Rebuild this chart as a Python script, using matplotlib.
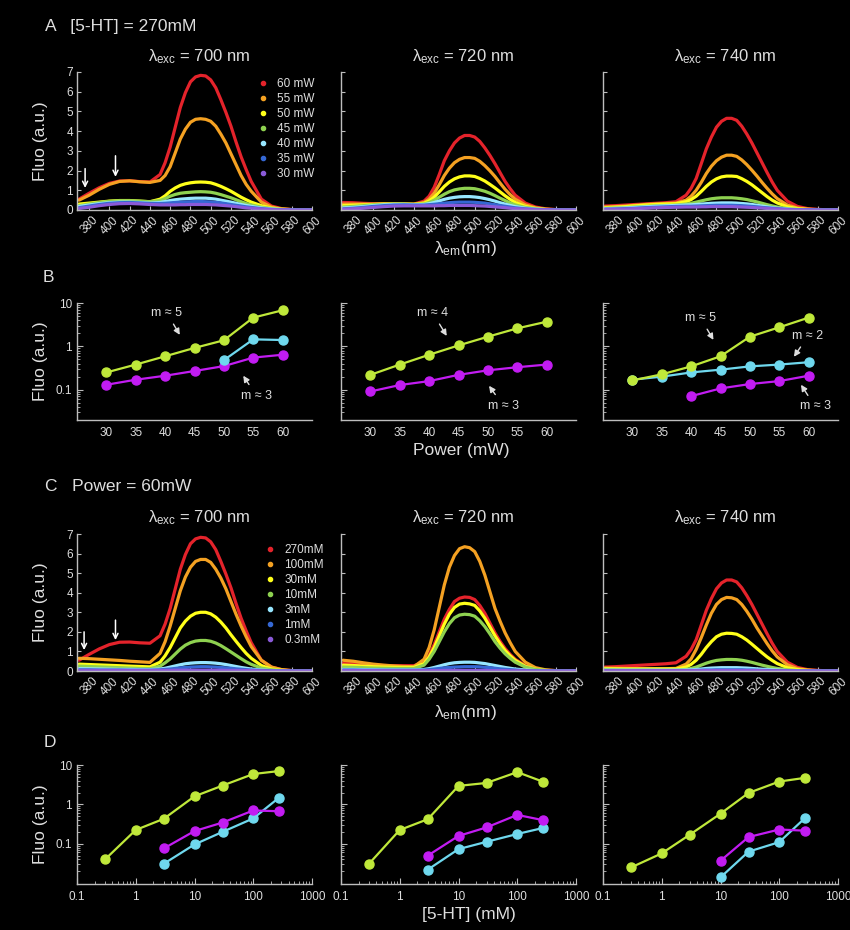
import matplotlib
matplotlib.use("Agg")
from matplotlib import pyplot as plt
from matplotlib.lines import Line2D
from matplotlib.ticker import LogLocator, NullFormatter
from matplotlib.transforms import ScaledTranslation

plt.rcParams["font.family"] = ["Liberation Sans", "DejaVu Sans"]
plt.rcParams["mathtext.default"] = "regular"

# emission wavelength grid (nm), finer across the peak
wl = [370, 380, 390, 400, 410, 420, 430, 440,
      450, 455, 460, 465, 470, 475, 480, 485, 490, 495, 500, 505, 510, 515, 520, 525, 530, 535, 540,
      550, 560, 570, 580, 590, 600]

# A: power series at [5-HT] = 270 mM (60, 55, 50, 45, 40, 35, 30 mW)
power_labels = ["60 mW", "55 mW", "50 mW", "45 mW", "40 mW", "35 mW", "30 mW"]
a700 = [
    [0.55, 0.85, 1.13, 1.35, 1.47, 1.48, 1.44, 1.42, 1.8, 2.4, 3.2, 4.2, 5.2, 5.95, 6.5, 6.75, 6.83, 6.8, 6.6, 6.2, 5.6, 4.95, 4.25, 3.45, 2.7, 2.05, 1.45, 0.55, 0.2, 0.07, 0.02, 0.01, 0.0],
    [0.5, 0.75, 1.05, 1.3, 1.45, 1.48, 1.43, 1.4, 1.5, 1.75, 2.2, 2.9, 3.6, 4.1, 4.45, 4.6, 4.63, 4.6, 4.5, 4.25, 3.85, 3.4, 2.85, 2.3, 1.75, 1.3, 0.95, 0.4, 0.15, 0.05, 0.02, 0.01, 0.0],
    [0.3, 0.35, 0.4, 0.45, 0.48, 0.48, 0.45, 0.42, 0.55, 0.72, 0.95, 1.12, 1.25, 1.33, 1.38, 1.41, 1.42, 1.41, 1.38, 1.3, 1.2, 1.08, 0.95, 0.8, 0.65, 0.52, 0.4, 0.22, 0.1, 0.04, 0.02, 0.01, 0.0],
    [0.22, 0.3, 0.38, 0.44, 0.47, 0.47, 0.45, 0.42, 0.48, 0.58, 0.7, 0.79, 0.85, 0.88, 0.9, 0.92, 0.93, 0.92, 0.9, 0.85, 0.78, 0.7, 0.62, 0.52, 0.42, 0.33, 0.26, 0.14, 0.07, 0.03, 0.01, 0.0, 0.0],
    [0.18, 0.25, 0.32, 0.37, 0.4, 0.4, 0.38, 0.35, 0.38, 0.43, 0.48, 0.52, 0.55, 0.57, 0.59, 0.6, 0.6, 0.6, 0.58, 0.55, 0.5, 0.45, 0.4, 0.34, 0.28, 0.23, 0.18, 0.1, 0.05, 0.02, 0.01, 0.0, 0.0],
    [0.12, 0.2, 0.28, 0.34, 0.37, 0.38, 0.36, 0.33, 0.33, 0.34, 0.36, 0.38, 0.4, 0.41, 0.42, 0.43, 0.43, 0.42, 0.41, 0.39, 0.36, 0.32, 0.28, 0.24, 0.2, 0.16, 0.13, 0.07, 0.03, 0.01, 0.0, 0.0, 0.0],
    [0.08, 0.14, 0.22, 0.28, 0.32, 0.33, 0.31, 0.28, 0.26, 0.26, 0.26, 0.26, 0.27, 0.27, 0.28, 0.28, 0.28, 0.28, 0.27, 0.26, 0.24, 0.22, 0.2, 0.17, 0.14, 0.11, 0.09, 0.05, 0.02, 0.01, 0.0, 0.0, 0.0],
]
a720 = [
    [0.38, 0.37, 0.34, 0.32, 0.32, 0.32, 0.31, 0.3, 0.45, 0.7, 1.15, 1.8, 2.5, 3.0, 3.4, 3.65, 3.78, 3.78, 3.7, 3.48, 3.15, 2.77, 2.35, 1.9, 1.45, 1.08, 0.75, 0.35, 0.15, 0.06, 0.02, 0.01, 0.0],
    [0.3, 0.3, 0.3, 0.3, 0.31, 0.31, 0.3, 0.29, 0.38, 0.55, 0.85, 1.28, 1.75, 2.12, 2.4, 2.57, 2.66, 2.66, 2.62, 2.47, 2.25, 1.99, 1.7, 1.37, 1.05, 0.78, 0.55, 0.26, 0.11, 0.04, 0.02, 0.01, 0.0],
    [0.22, 0.24, 0.26, 0.28, 0.3, 0.3, 0.3, 0.29, 0.34, 0.46, 0.65, 0.92, 1.2, 1.42, 1.58, 1.68, 1.73, 1.73, 1.7, 1.6, 1.47, 1.3, 1.12, 0.92, 0.72, 0.54, 0.38, 0.18, 0.08, 0.03, 0.01, 0.0, 0.0],
    [0.15, 0.18, 0.22, 0.26, 0.28, 0.3, 0.3, 0.28, 0.3, 0.38, 0.5, 0.65, 0.8, 0.93, 1.02, 1.07, 1.1, 1.1, 1.08, 1.02, 0.95, 0.85, 0.73, 0.6, 0.48, 0.36, 0.26, 0.13, 0.06, 0.02, 0.01, 0.0, 0.0],
    [0.1, 0.13, 0.17, 0.22, 0.26, 0.28, 0.28, 0.27, 0.28, 0.32, 0.38, 0.46, 0.54, 0.6, 0.64, 0.67, 0.68, 0.68, 0.66, 0.63, 0.58, 0.52, 0.45, 0.37, 0.3, 0.23, 0.17, 0.09, 0.04, 0.02, 0.01, 0.0, 0.0],
    [0.06, 0.09, 0.13, 0.18, 0.22, 0.25, 0.26, 0.25, 0.25, 0.27, 0.29, 0.32, 0.35, 0.37, 0.39, 0.4, 0.4, 0.4, 0.39, 0.37, 0.35, 0.31, 0.27, 0.23, 0.19, 0.15, 0.11, 0.06, 0.03, 0.01, 0.0, 0.0, 0.0],
    [0.04, 0.06, 0.09, 0.13, 0.17, 0.2, 0.21, 0.21, 0.21, 0.21, 0.21, 0.22, 0.22, 0.23, 0.23, 0.23, 0.23, 0.23, 0.22, 0.21, 0.2, 0.18, 0.16, 0.14, 0.12, 0.09, 0.07, 0.04, 0.02, 0.01, 0.0, 0.0, 0.0],
]
a740 = [
    [0.2, 0.22, 0.25, 0.28, 0.31, 0.34, 0.37, 0.42, 0.75, 1.1, 1.6, 2.35, 3.1, 3.7, 4.2, 4.5, 4.65, 4.65, 4.55, 4.25, 3.85, 3.4, 2.9, 2.4, 1.9, 1.42, 1.0, 0.45, 0.18, 0.07, 0.03, 0.01, 0.0],
    [0.15, 0.17, 0.2, 0.24, 0.28, 0.31, 0.33, 0.35, 0.5, 0.7, 1.0, 1.4, 1.85, 2.22, 2.5, 2.68, 2.78, 2.78, 2.72, 2.54, 2.3, 2.02, 1.72, 1.4, 1.1, 0.82, 0.58, 0.25, 0.1, 0.04, 0.02, 0.01, 0.0],
    [0.12, 0.14, 0.17, 0.21, 0.25, 0.28, 0.3, 0.32, 0.42, 0.53, 0.7, 0.94, 1.2, 1.42, 1.58, 1.68, 1.72, 1.72, 1.7, 1.59, 1.45, 1.28, 1.08, 0.88, 0.68, 0.5, 0.36, 0.16, 0.07, 0.03, 0.01, 0.0, 0.0],
    [0.08, 0.1, 0.12, 0.15, 0.18, 0.21, 0.23, 0.25, 0.3, 0.34, 0.4, 0.46, 0.52, 0.57, 0.6, 0.62, 0.62, 0.62, 0.6, 0.57, 0.53, 0.47, 0.41, 0.34, 0.27, 0.21, 0.15, 0.07, 0.03, 0.01, 0.0, 0.0, 0.0],
    [0.06, 0.08, 0.1, 0.13, 0.16, 0.19, 0.21, 0.23, 0.25, 0.26, 0.28, 0.3, 0.32, 0.34, 0.35, 0.36, 0.36, 0.36, 0.35, 0.33, 0.31, 0.28, 0.24, 0.2, 0.16, 0.12, 0.09, 0.05, 0.02, 0.01, 0.0, 0.0, 0.0],
    [0.04, 0.05, 0.07, 0.09, 0.12, 0.14, 0.16, 0.18, 0.19, 0.19, 0.2, 0.21, 0.22, 0.23, 0.24, 0.24, 0.24, 0.24, 0.23, 0.22, 0.2, 0.18, 0.16, 0.13, 0.11, 0.09, 0.07, 0.03, 0.01, 0.01, 0.0, 0.0, 0.0],
    [0.03, 0.04, 0.05, 0.07, 0.09, 0.11, 0.13, 0.14, 0.15, 0.15, 0.15, 0.16, 0.16, 0.17, 0.17, 0.17, 0.17, 0.17, 0.16, 0.15, 0.14, 0.13, 0.11, 0.1, 0.08, 0.06, 0.05, 0.02, 0.01, 0.0, 0.0, 0.0, 0.0],
]

# C: concentration series at 60 mW (270, 100, 30, 10, 3, 1, 0.3 mM)
conc_labels = ["270mM", "100mM", "30mM", "10mM", "3mM", "1mM", "0.3mM"]
c700 = [
    a700[0],
    [0.65, 0.63, 0.6, 0.57, 0.54, 0.5, 0.47, 0.44, 0.9, 1.5, 2.3, 3.2, 4.1, 4.8, 5.3, 5.6, 5.7, 5.7, 5.55, 5.2, 4.75, 4.2, 3.55, 2.9, 2.3, 1.75, 1.25, 0.55, 0.2, 0.07, 0.02, 0.01, 0.0],
    [0.35, 0.33, 0.31, 0.29, 0.27, 0.25, 0.23, 0.21, 0.45, 0.78, 1.2, 1.7, 2.2, 2.55, 2.8, 2.95, 3.0, 3.0, 2.92, 2.75, 2.5, 2.2, 1.85, 1.52, 1.2, 0.9, 0.65, 0.28, 0.1, 0.04, 0.01, 0.0, 0.0],
    [0.25, 0.23, 0.21, 0.19, 0.17, 0.15, 0.13, 0.12, 0.25, 0.42, 0.62, 0.87, 1.12, 1.32, 1.45, 1.53, 1.56, 1.56, 1.52, 1.43, 1.3, 1.14, 0.97, 0.8, 0.63, 0.47, 0.34, 0.15, 0.06, 0.02, 0.01, 0.0, 0.0],
    [0.12, 0.11, 0.1, 0.09, 0.08, 0.08, 0.07, 0.07, 0.1, 0.14, 0.2, 0.26, 0.32, 0.37, 0.4, 0.42, 0.43, 0.43, 0.42, 0.4, 0.37, 0.33, 0.28, 0.23, 0.18, 0.14, 0.1, 0.05, 0.02, 0.01, 0.0, 0.0, 0.0],
    [0.06, 0.06, 0.05, 0.05, 0.05, 0.04, 0.04, 0.04, 0.06, 0.08, 0.1, 0.13, 0.16, 0.18, 0.2, 0.21, 0.22, 0.22, 0.21, 0.2, 0.18, 0.16, 0.14, 0.11, 0.09, 0.07, 0.05, 0.03, 0.01, 0.0, 0.0, 0.0, 0.0],
    [0.03, 0.03, 0.03, 0.03, 0.03, 0.03, 0.03, 0.03, 0.03, 0.03, 0.03, 0.04, 0.04, 0.04, 0.04, 0.04, 0.04, 0.04, 0.04, 0.04, 0.04, 0.03, 0.03, 0.03, 0.03, 0.02, 0.02, 0.01, 0.0, 0.0, 0.0, 0.0, 0.0],
]
c720 = [
    [0.4, 0.4, 0.35, 0.3, 0.28, 0.27, 0.27, 0.27, 0.45, 0.8, 1.35, 2.0, 2.65, 3.15, 3.55, 3.72, 3.78, 3.76, 3.65, 3.35, 2.95, 2.45, 1.95, 1.52, 1.15, 0.85, 0.6, 0.27, 0.1, 0.04, 0.02, 0.01, 0.0],
    [0.55, 0.5, 0.42, 0.35, 0.3, 0.26, 0.23, 0.22, 0.6, 1.2, 2.1, 3.25, 4.4, 5.3, 5.9, 6.25, 6.35, 6.3, 6.1, 5.6, 4.9, 4.05, 3.2, 2.55, 1.95, 1.45, 1.0, 0.45, 0.17, 0.06, 0.02, 0.01, 0.0],
    [0.3, 0.28, 0.25, 0.22, 0.2, 0.19, 0.18, 0.18, 0.38, 0.72, 1.2, 1.8, 2.4, 2.9, 3.25, 3.42, 3.46, 3.43, 3.35, 3.07, 2.7, 2.25, 1.8, 1.4, 1.05, 0.78, 0.55, 0.24, 0.09, 0.03, 0.01, 0.0, 0.0],
    [0.2, 0.19, 0.17, 0.15, 0.14, 0.13, 0.13, 0.13, 0.3, 0.6, 1.0, 1.5, 2.0, 2.42, 2.72, 2.86, 2.9, 2.88, 2.8, 2.57, 2.27, 1.9, 1.5, 1.17, 0.88, 0.65, 0.45, 0.2, 0.08, 0.03, 0.01, 0.0, 0.0],
    [0.08, 0.08, 0.07, 0.07, 0.06, 0.06, 0.06, 0.06, 0.08, 0.12, 0.18, 0.25, 0.32, 0.38, 0.42, 0.44, 0.45, 0.45, 0.44, 0.41, 0.38, 0.33, 0.28, 0.23, 0.18, 0.14, 0.1, 0.05, 0.02, 0.01, 0.0, 0.0, 0.0],
    [0.05, 0.05, 0.04, 0.04, 0.04, 0.04, 0.04, 0.04, 0.05, 0.07, 0.1, 0.13, 0.16, 0.18, 0.2, 0.21, 0.22, 0.22, 0.22, 0.21, 0.19, 0.17, 0.14, 0.11, 0.09, 0.07, 0.05, 0.02, 0.01, 0.0, 0.0, 0.0, 0.0],
    [0.02, 0.02, 0.02, 0.02, 0.02, 0.02, 0.02, 0.02, 0.02, 0.02, 0.02, 0.02, 0.03, 0.03, 0.03, 0.03, 0.03, 0.03, 0.03, 0.03, 0.03, 0.02, 0.02, 0.02, 0.02, 0.01, 0.01, 0.01, 0.0, 0.0, 0.0, 0.0, 0.0],
]
c740 = [
    a740[0],
    [0.15, 0.14, 0.13, 0.12, 0.12, 0.12, 0.12, 0.13, 0.35, 0.62, 1.1, 1.7, 2.35, 2.95, 3.4, 3.65, 3.76, 3.74, 3.65, 3.4, 3.05, 2.65, 2.2, 1.8, 1.4, 1.03, 0.72, 0.32, 0.12, 0.05, 0.02, 0.01, 0.0],
    [0.12, 0.11, 0.1, 0.1, 0.1, 0.1, 0.1, 0.1, 0.2, 0.34, 0.55, 0.85, 1.2, 1.5, 1.75, 1.88, 1.93, 1.92, 1.88, 1.75, 1.58, 1.37, 1.15, 0.93, 0.72, 0.54, 0.38, 0.17, 0.07, 0.03, 0.01, 0.0, 0.0],
    [0.08, 0.07, 0.06, 0.06, 0.06, 0.05, 0.05, 0.05, 0.08, 0.13, 0.2, 0.3, 0.4, 0.48, 0.54, 0.57, 0.59, 0.59, 0.58, 0.55, 0.5, 0.44, 0.37, 0.3, 0.24, 0.18, 0.13, 0.06, 0.02, 0.01, 0.0, 0.0, 0.0],
    [0.04, 0.04, 0.04, 0.04, 0.04, 0.04, 0.04, 0.04, 0.05, 0.06, 0.08, 0.1, 0.13, 0.15, 0.16, 0.17, 0.17, 0.17, 0.17, 0.16, 0.15, 0.13, 0.11, 0.09, 0.08, 0.06, 0.05, 0.02, 0.01, 0.0, 0.0, 0.0, 0.0],
    [0.02, 0.02, 0.02, 0.02, 0.02, 0.02, 0.02, 0.02, 0.02, 0.03, 0.03, 0.04, 0.05, 0.05, 0.06, 0.06, 0.06, 0.06, 0.06, 0.06, 0.05, 0.05, 0.04, 0.03, 0.03, 0.02, 0.02, 0.01, 0.0, 0.0, 0.0, 0.0, 0.0],
    [0.02, 0.02, 0.02, 0.02, 0.02, 0.02, 0.02, 0.02, 0.02, 0.02, 0.02, 0.02, 0.02, 0.02, 0.02, 0.02, 0.02, 0.02, 0.02, 0.02, 0.02, 0.02, 0.02, 0.02, 0.01, 0.01, 0.01, 0.01, 0.0, 0.0, 0.0, 0.0, 0.0],
]

# B: fluorescence vs power
power = [30, 35, 40, 45, 50, 55, 60]
b700_green = [0.25, 0.38, 0.59, 0.92, 1.38, 4.6, 6.8]
b700_cyan_p = [50, 55, 60]
b700_cyan = [0.48, 1.45, 1.4]
b700_mag = [0.13, 0.17, 0.21, 0.27, 0.35, 0.55, 0.64]
b720_green = [0.22, 0.38, 0.64, 1.05, 1.67, 2.6, 3.7]
b720_mag = [0.091, 0.128, 0.158, 0.22, 0.28, 0.33, 0.38]
b740_green = [0.164, 0.226, 0.345, 0.59, 1.67, 2.75, 4.6]
b740_cyan = [0.17, 0.2, 0.25, 0.29, 0.345, 0.38, 0.43]
b740_mag_p = [40, 45, 50, 55, 60]
b740_mag = [0.071, 0.107, 0.135, 0.158, 0.21]

# D: fluorescence vs [5-HT]
conc = [0.3, 1, 3, 10, 30, 100, 270]
d700_green = [0.04, 0.224, 0.43, 1.6, 3.0, 5.9, 7.0]
d700_mag = [0.076, 0.21, 0.345, 0.70, 0.67]
d700_cyan = [0.031, 0.096, 0.2, 0.44, 1.45]
d720_green = [0.031, 0.224, 0.42, 2.95, 3.5, 6.6, 3.8]
d720_mag = [0.05, 0.158, 0.26, 0.54, 0.4]
d720_cyan = [0.022, 0.073, 0.112, 0.177, 0.25]
d740_green = [0.025, 0.057, 0.17, 0.58, 1.95, 3.8, 4.7]
d740_mag = [0.037, 0.148, 0.23, 0.215]
d740_cyan = [0.014, 0.063, 0.11, 0.44]

spec_colors = ["#e4232b", "#f4a122", "#ffff1a", "#8ed150", "#97e6ff", "#3568d4", "#8a5ad8"]
GREEN = "#bfe83a"
CYAN = "#6fd8ee"
MAG = "#c21cf2"
TXT = "#dedede"
AXC = "#bdbdbd"

W, H = 850, 930
fig = plt.figure(figsize=(W / 100, H / 100), dpi=100, facecolor="black")

col_left = [77, 341, 603]
col_w = 235


def add_ax(left, top, bottom):
    ax = fig.add_axes([left / W, 1 - bottom / H, col_w / W, (bottom - top) / H])
    ax.set_facecolor("black")
    for s in ["top", "right"]:
        ax.spines[s].set_visible(False)
    for s in ["left", "bottom"]:
        ax.spines[s].set_color(AXC)
        ax.spines[s].set_linewidth(1)
    ax.tick_params(which="both", colors=AXC, labelcolor=TXT, labelsize=8.5, direction="in")
    return ax


def ftext(px, py, s, **kw):
    fig.text(px / W, 1 - py / H, s, color=TXT, **kw)


def spectra_panel(ax, curves, first):
    for vals, col in zip(curves, spec_colors):
        ax.plot(wl, vals, color=col, lw=2.3, solid_capstyle="round", solid_joinstyle="round")
    ax.set_xlim(368, 600)
    ax.set_ylim(0, 7)
    ax.set_yticks(range(0, 8))
    ax.set_xticks(range(380, 601, 20))
    ax.set_xticklabels([str(v) for v in range(380, 601, 20)], rotation=45, ha="center")
    shift = ScaledTranslation(-0.045, 0, fig.dpi_scale_trans)
    for lab in ax.get_xticklabels():
        lab.set_transform(lab.get_transform() + shift)
    ax.tick_params(axis="both", length=3, pad=3)
    if not first:
        ax.tick_params(labelleft=False)


def legend(ax, labels, x, y):
    handles = [Line2D([], [], marker="o", ls="", color=c, ms=3) for c in spec_colors]
    ax.legend(handles, labels, loc="upper left", bbox_to_anchor=(x, y), frameon=False,
              fontsize=8.5, labelcolor=TXT, handlelength=0.6, handletextpad=0.9,
              labelspacing=0.25, borderaxespad=0, borderpad=0)


def log_panel(ax, first, ymin):
    ax.set_yscale("log")
    ax.set_ylim(ymin, 10)
    ax.yaxis.set_minor_locator(LogLocator(base=10, subs=range(2, 10)))
    ax.yaxis.set_minor_formatter(NullFormatter())
    ax.set_yticks([0.1, 1, 10])
    ax.set_yticklabels(["0.1", "1", "10"])
    ax.tick_params(axis="y", which="major", length=4)
    ax.tick_params(axis="y", which="minor", length=2.5)
    if not first:
        ax.tick_params(labelleft=False)


def arrow(ax, s, xy, xytext):
    ax.annotate(s, xy=xy, xytext=xytext, color=TXT, fontsize=9, ha="center", va="center",
                arrowprops=dict(arrowstyle="-|>", color=TXT, lw=1, mutation_scale=9,
                                shrinkA=2, shrinkB=0))


def down_arrows(ax, spots):
    for x0, y0, y1 in spots:
        ax.annotate("", xy=(x0, y1), xytext=(x0, y0),
                    arrowprops=dict(arrowstyle="->", color="white", lw=1.1,
                                    mutation_scale=9, shrinkA=0, shrinkB=0))


line_kw = dict(lw=1.6, marker="o", ms=6.5)

# ---- row A ----
for i, (curves, exc) in enumerate(zip([a700, a720, a740], [700, 720, 740])):
    ax = add_ax(col_left[i], 72, 210)
    spectra_panel(ax, curves, i == 0)
    ftext(col_left[i] + col_w / 2 + 5, 57, "λ$_{exc}$ = %d nm" % exc, fontsize=12,
          ha="center", va="center")
    if i == 0:
        legend(ax, power_labels, 0.777, 0.957)
        down_arrows(ax, [(376, 2.1, 1.12), (406, 2.75, 1.68)])

# ---- row B ----
b_green = [b700_green, b720_green, b740_green]
for i in range(3):
    ax = add_ax(col_left[i], 303, 420)
    if i == 0:
        ax.plot(power, b700_mag, color=MAG, **line_kw)
        ax.plot(b700_cyan_p, b700_cyan, color=CYAN, **line_kw)
    elif i == 1:
        ax.plot(power, b720_mag, color=MAG, **line_kw)
    else:
        ax.plot(b740_mag_p, b740_mag, color=MAG, **line_kw)
        ax.plot(power, b740_cyan, color=CYAN, **line_kw)
    ax.plot(power, b_green[i], color=GREEN, **line_kw)
    ax.set_xlim(25, 65)
    ax.set_xticks(power)
    ax.tick_params(axis="x", length=0, pad=5)
    log_panel(ax, i == 0, 0.02)
    if i == 0:
        arrow(ax, "m ≈ 5", (42.5, 1.84), (40.3, 5.9))
        arrow(ax, "m ≈ 3", (53.3, 0.21), (55.5, 0.073))
    elif i == 1:
        arrow(ax, "m ≈ 4", (43.0, 1.74), (40.6, 5.9))
        arrow(ax, "m ≈ 3", (50.2, 0.123), (52.6, 0.043))
    else:
        arrow(ax, "m ≈ 5", (43.8, 1.41), (41.6, 4.5))
        arrow(ax, "m ≈ 2", (57.5, 0.575), (59.9, 1.74))
        arrow(ax, "m ≈ 3", (58.7, 0.13), (61.1, 0.041))

# ---- row C ----
for i, (curves, exc) in enumerate(zip([c700, c720, c740], [700, 720, 740])):
    ax = add_ax(col_left[i], 534, 671)
    spectra_panel(ax, curves, i == 0)
    ftext(col_left[i] + col_w / 2 + 5, 518, "λ$_{exc}$ = %d nm" % exc, fontsize=12,
          ha="center", va="center")
    if i == 0:
        legend(ax, conc_labels, 0.806, 0.927)
        down_arrows(ax, [(375, 2.0, 1.07), (406, 2.6, 1.58)])

# ---- row D ----
d_green = [d700_green, d720_green, d740_green]
d_mag = [d700_mag, d720_mag, d740_mag]
d_cyan = [d700_cyan, d720_cyan, d740_cyan]
for i in range(3):
    ax = add_ax(col_left[i], 765, 884)
    cx = conc[2:] if i < 2 else conc[3:]
    ax.plot(cx, d_cyan[i], color=CYAN, **line_kw)
    ax.plot(cx, d_mag[i], color=MAG, **line_kw)
    ax.plot(conc, d_green[i], color=GREEN, **line_kw)
    ax.set_xscale("log")
    ax.set_xlim(0.1, 1000)
    ax.xaxis.set_minor_locator(LogLocator(base=10, subs=range(2, 10)))
    ax.xaxis.set_minor_formatter(NullFormatter())
    ax.set_xticks([0.1, 1, 10, 100, 1000])
    ax.set_xticklabels(["0.1", "1", "10", "100", "1000"])
    ax.tick_params(axis="x", which="major", length=4, pad=5)
    ax.tick_params(axis="x", which="minor", length=2.5)
    log_panel(ax, i == 0, 0.0095)

# ---- figure texts ----
ftext(45, 26, "A   [5-HT] = 270mM", fontsize=12.5, ha="left", va="center")
ftext(43, 277, "B", fontsize=12.5, ha="left", va="center")
ftext(45, 486, "C   Power = 60mW", fontsize=12.5, ha="left", va="center")
ftext(44, 742, "D", fontsize=12.5, ha="left", va="center")

for yc in [141, 361, 602, 824]:
    ftext(40, yc, "Fluo (a.u.)", fontsize=12.5, ha="center", va="center", rotation=90)

ftext(465, 248, "λ$_{em}$(nm)", fontsize=12.5, ha="center", va="center")
ftext(465, 712, "λ$_{em}$(nm)", fontsize=12.5, ha="center", va="center")
ftext(461, 451, "Power (mW)", fontsize=12.5, ha="center", va="center")
ftext(469, 914, "[5-HT] (mM)", fontsize=12.5, ha="center", va="center")

fig.savefig("out.png", dpi=100, facecolor="black")
